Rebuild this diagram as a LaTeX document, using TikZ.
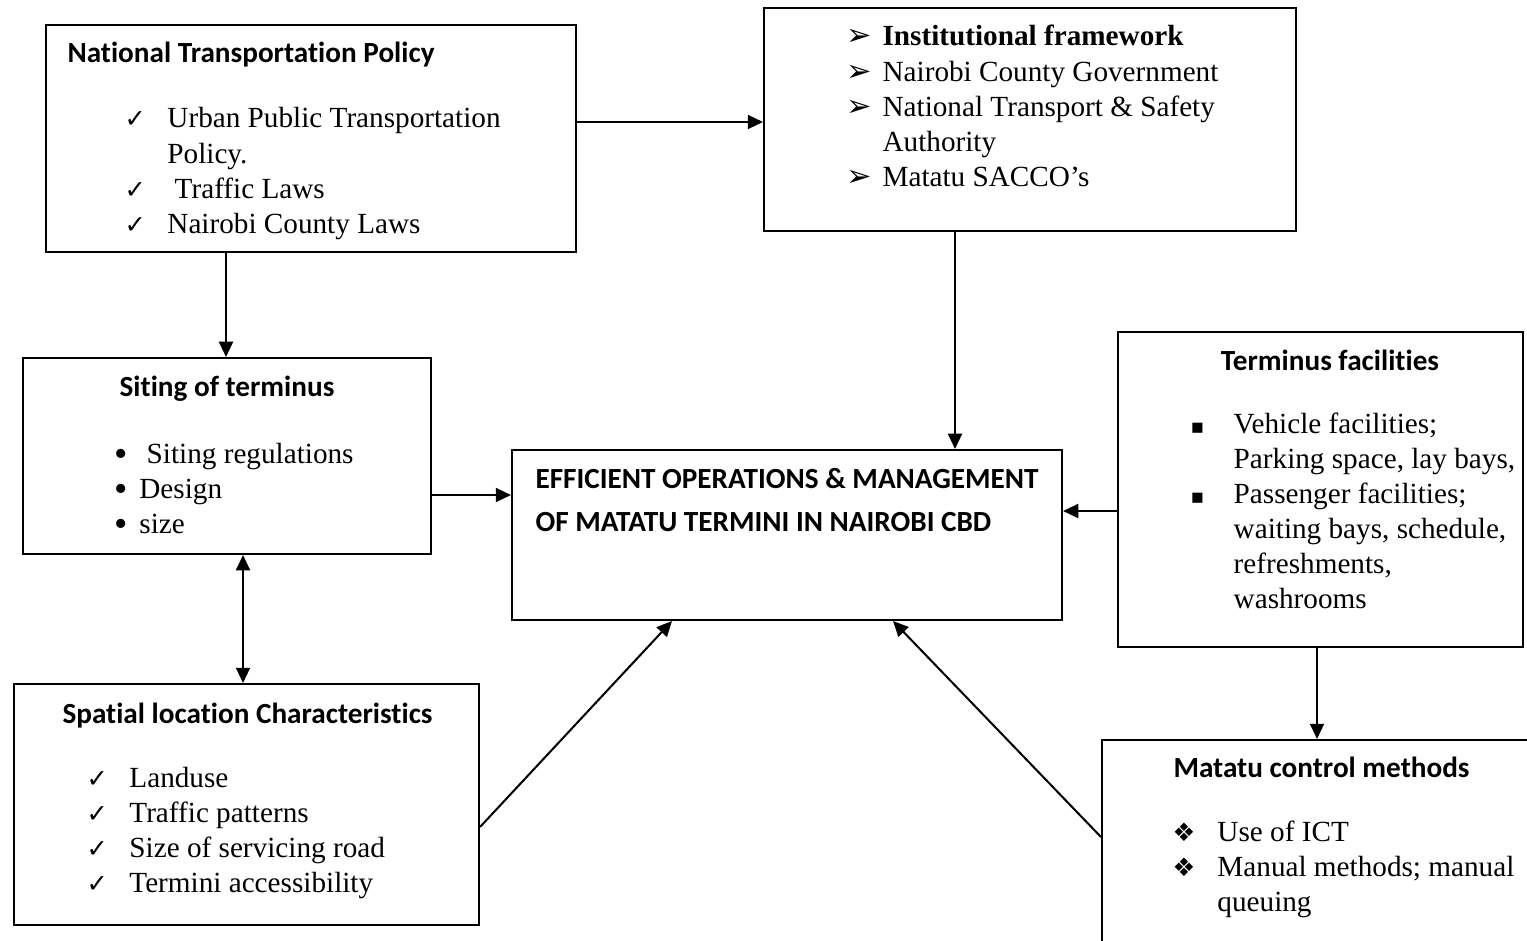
\documentclass[tikz,border=0pt]{standalone}
\usepackage{fontspec}
\setmainfont{Liberation Serif}
\newfontfamily\headfont{Carlito}[Ligatures=NoCommon]
\newfontfamily\symfont{DejaVu Sans}
\usetikzlibrary{arrows.meta,fit}
\newcommand{\chk}{{\symfont\fontsize{10}{12}\selectfont ✓}}
\newcommand{\arrb}{{\symfont\fontsize{12}{12}\selectfont ➢}}
\newcommand{\sqb}{{\symfont\fontsize{8}{12}\selectfont ▪}}
\newcommand{\dmb}{{\symfont\fontsize{10}{12}\selectfont ❖}}
\newcommand{\dotb}{\smash{\raisebox{-1.2pt}{\fontsize{15}{12}\selectfont\textbullet}}}
\newcommand{\conceptbox}[3]{\node[box,fit={(#2) (#3)}] (#1) {}}

\begin{document}
\begin{tikzpicture}[x=0.3937pt,y=-0.3937pt,
    box/.style={draw,line width=0.8pt,inner sep=0pt},
    arr/.style={line width=0.8pt,-{Triangle[length=6pt,width=5.5pt]}},
    head/.style={inner sep=0pt,font=\headfont\bfseries\fontsize{11.5}{13.4}\selectfont},
    items/.style={inner sep=0pt,anchor=base west,font=\fontsize{11.5}{13.8}\selectfont}]
	\clip (0,0) rectangle (1527,940);
	
	% boxes
	\conceptbox{policy}{46,25}{576,252};
	\conceptbox{inst}{764,8}{1296,231};
	\conceptbox{siting}{23,358}{431,554};
	\conceptbox{core}{512,450}{1062,620};
	\conceptbox{facil}{1118,332}{1523,647};
	\conceptbox{control}{1102,740}{1560,980};
	\conceptbox{spatial}{14,684}{479,925};
	
	% headings
	\node[head,anchor=base west] (policyhead) at (67,63) {National Transportation Policy};
	\node[head,anchor=base] (sitinghead) at (227,396) {Siting of terminus};
	\node[head,anchor=base] (facilhead) at (1330,370) {Terminus facilities};
	\node[head,anchor=base west] (controlhead) at (1173,777) {Matatu control methods};
	\node[head,anchor=base west] (spatialhead) at (62,723) {Spatial location Characteristics};
	\node[head,anchor=north west,align=left,font=\headfont\bfseries\fontsize{11.5}{16.9}\selectfont] (corehead) at (535,468)
		{EFFICIENT OPERATIONS \& MANAGEMENT\\OF MATATU TERMINI IN NAIROBI CBD};
	
	% lists
	\node[items] (policylist) at (124,128) {\begin{tabular}[t]{@{}p{16.9pt}@{}l@{}}
		\chk & Urban Public Transportation\\
		     & Policy.\\
		\chk & \ Traffic Laws\\
		\chk & Nairobi County Laws\end{tabular}};
	\node[items] (instlist) at (846,46) {\begin{tabular}[t]{@{}p{14.2pt}@{}l@{}}
		\arrb & \textbf{Institutional framework}\\
		\arrb & Nairobi County Government\\
		\arrb & National Transport \& Safety\\
		      & Authority\\
		\arrb & Matatu SACCO's\end{tabular}};
	\node[items] (sitinglist) at (114,463) {\begin{tabular}[t]{@{}p{9.8pt}@{}l@{}}
		\dotb & \ Siting regulations\\
		\dotb & Design\\
		\dotb & size\end{tabular}};
	\node[items] (facillist) at (1190,433) {\begin{tabular}[t]{@{}p{17pt}@{}l@{}}
		\sqb & Vehicle facilities;\\
		     & Parking space, lay bays,\\
		\sqb & Passenger facilities;\\
		     & waiting bays, schedule,\\
		     & refreshments,\\
		     & washrooms\end{tabular}};
	\node[items] (controllist) at (1172,841) {\begin{tabular}[t]{@{}p{17.7pt}@{}l@{}}
		\dmb & Use of ICT\\
		\dmb & Manual methods; manual\\
		     & queuing\end{tabular}};
	\node[items] (spatiallist) at (86,787) {\begin{tabular}[t]{@{}p{16.9pt}@{}l@{}}
		\chk & Landuse\\
		\chk & Traffic patterns\\
		\chk & Size of servicing road\\
		\chk & Termini accessibility\end{tabular}};
	
	% connectors
	\draw[arr] (policy.east |- 0,122) -- (inst.west |- 0,122);
	\draw[arr] (226,0 |- policy.south) -- (226,0 |- siting.north);
	\draw[arr] (955,0 |- inst.south) -- (955,0 |- core.north);
	\draw[arr] (siting.east |- 0,495) -- (core.west |- 0,495);
	\draw[arr,{Triangle[length=6pt,width=5.5pt]}-{Triangle[length=6pt,width=5.5pt]}] (243,0 |- siting.south) -- (243,0 |- spatial.north);
	\draw[arr] (facil.west |- 0,511) -- (core.east |- 0,511);
	\draw[arr] (1317,0 |- facil.south) -- (1317,0 |- control.north);
	\draw[arr] (spatial.east |- 0,827) -- (672,0 |- core.south);
	\draw[arr] (control.west |- 0,837) -- (893,0 |- core.south);
\end{tikzpicture}
\end{document}
